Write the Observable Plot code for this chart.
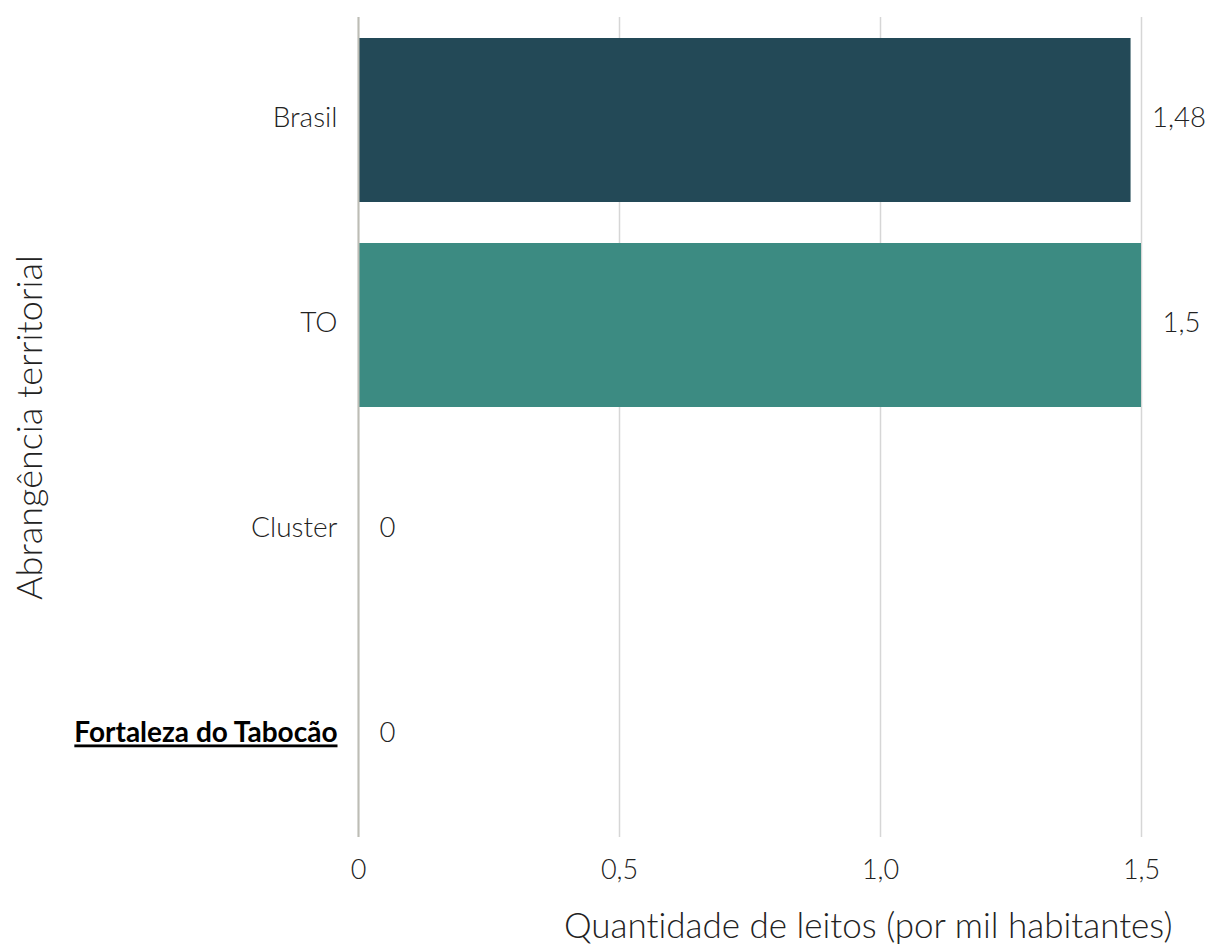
<!DOCTYPE html>
<html>
<head>
<meta charset="utf-8">
<script src="https://cdn.jsdelivr.net/npm/d3@7"></script>
<script src="https://cdn.jsdelivr.net/npm/@observablehq/plot@0.6"></script>
<style>
  html, body { margin: 0; padding: 0; background: #fff; }
  #chart svg { display: block; }
  #chart svg text { font-variant-ligatures: none; font-feature-settings: "liga" 0; }
</style>
</head>
<body>
<div id="chart"></div>
<script>
const categories = ["Brasil", "TO", "Cluster", "Fortaleza do Tabocão"];
const values = [1.48, 1.5, 0, 0];
const valueLabels = ["1,48", "1,5", "0", "0"];
const barColors = ["#234957", "#3c8b82", "#3c8b82", "#3c8b82"];
const highlighted = "Fortaleza do Tabocão";
const xTicks = [0, 0.5, 1.0, 1.5];
const xTickLabels = ["0", "0,5", "1,0", "1,5"];
const xTitle = "Quantidade de leitos (por mil habitantes)";
const yTitle = "Abrangência territorial";

const data = categories.map((c, i) => ({name: c, value: values[i], label: valueLabels[i]}));
const font = "Lato, 'Noto Sans', sans-serif";

const chart = Plot.plot({
  width: 1207,
  height: 946,
  marginLeft: 358,
  marginRight: 66,
  marginTop: 17,
  marginBottom: 109,
  style: {fontFamily: font, background: "#fff"},
  x: {domain: [0, 1.5], ticks: xTicks},
  y: {domain: categories, paddingInner: 0.2, paddingOuter: 0.1, axis: null},
  color: {domain: categories, range: barColors},
  marks: [
    Plot.gridX(xTicks, {stroke: "#d6d6d6", strokeOpacity: 1, strokeWidth: 1.5}),
    Plot.barX(data, {x: "value", y: "name", fill: "name", inset: 0}),
    Plot.ruleX([0], {stroke: "#bdbdb5", strokeWidth: 2}),
    Plot.axisX(xTicks, {
      tickSize: 0, tickPadding: 22, label: null,
      tickFormat: (d, i) => xTickLabels[xTicks.indexOf(d)],
      fontSize: 27, fontWeight: 300, fill: "#222"
    }),
    Plot.text(data.filter(d => d.name !== highlighted), {
      x: 0, y: "name", text: "name", dx: -21, dy: -2, textAnchor: "end",
      fontSize: 28, fontWeight: 300, fill: "#222"
    }),
    Plot.text(data.filter(d => d.name === highlighted), {
      x: 0, y: "name", text: "name", dx: -21, dy: -2, textAnchor: "end",
      fontSize: 28, fontWeight: 700, fill: "#000", className: "hl-label"
    }),
    Plot.text(data, {
      x: "value", y: "name", text: "label", dx: 21, dy: -2, textAnchor: "start",
      fontSize: 27.5, fontWeight: 300, fill: "#222"
    }),
    Plot.text([xTitle], {
      frameAnchor: "bottom-right", dx: 31, dy: 89, textAnchor: "end",
      lineAnchor: "middle", fontSize: 35, fontWeight: 300, fill: "#222"
    }),
    Plot.text([yTitle], {
      frameAnchor: "left", dx: -328, rotate: -90, textAnchor: "middle",
      lineAnchor: "middle", fontSize: 36, fontWeight: 300, fill: "#222"
    })
  ]
});

d3.select(chart).selectAll(".hl-label text").style("text-decoration", "underline");
document.getElementById("chart").appendChild(chart);
</script>
</body>
</html>
